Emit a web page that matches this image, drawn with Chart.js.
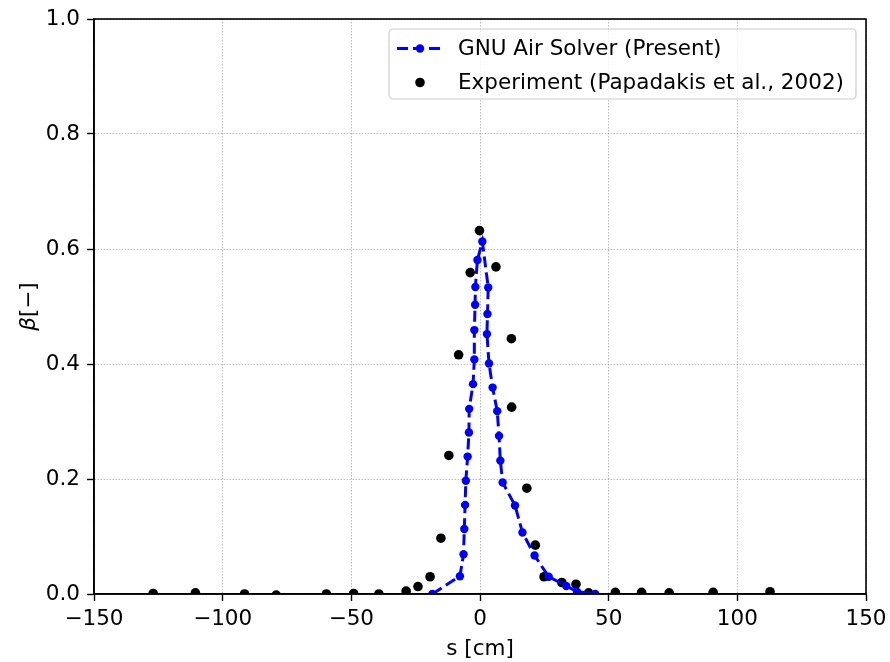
<!DOCTYPE html>
<html>
<head>
<meta charset="utf-8">
<title>Void fraction profile</title>
<script src="https://cdn.jsdelivr.net/npm/chart.js@4.4.1/dist/chart.umd.min.js"></script>
<style>
  html, body { margin: 0; padding: 0; background: #fff; }
  #wrap { width: 890px; height: 662px; }
</style>
</head>
<body>
<div id="wrap"><canvas id="betaChart" width="890" height="662"></canvas></div>
<script>
// GNU Air Solver (present) - s [cm] and beta
const simS = [-18.5, -7.8, -6.4, -6.1, -5.8, -5.5, -4.8, -4.3, -4.2, -2.7, -2.2, -2.2, -1.9, -1.8, -1.0, 0.9,
              3.2, 2.9, 2.7, 3.5, 4.9, 6.7, 7.4, 7.9, 8.8, 13.6, 16.5, 21.2, 26.7, 33.5, 37.7, 44.8];
const simBeta = [0.0, 0.031, 0.069, 0.113, 0.155, 0.197, 0.239, 0.281, 0.322, 0.365, 0.408, 0.459, 0.503, 0.534, 0.581, 0.613,
                 0.533, 0.487, 0.452, 0.401, 0.359, 0.318, 0.275, 0.232, 0.194, 0.154, 0.107, 0.067, 0.030, 0.014, 0.004, 0.0];

// Experiment (Papadakis et al., 2002)
const expS = [-127.0, -110.6, -91.5, -79.2, -59.7, -49.1, -39.3, -28.7, -24.1, -19.4, -15.2, -12.1, -8.3, -3.8, -0.2,
              6.2, 12.2, 12.3, 18.2, 21.5, 24.9, 31.8, 37.3, 42.2, 52.6, 62.8, 73.5, 90.6, 112.7];
const expBeta = [0.001, 0.002, 0.0, -0.002, 0.0, 0.001, 0.0, 0.005, 0.013, 0.030, 0.097, 0.241, 0.416, 0.559, 0.632,
                 0.569, 0.444, 0.325, 0.184, 0.085, 0.030, 0.020, 0.017, 0.002, 0.003, 0.003, 0.002, 0.003, 0.004];

const seriesLabels = ['GNU Air Solver (Present)', 'Experiment (Papadakis et al., 2002)'];
const xTicks = [-150, -100, -50, 0, 50, 100, 150];
const yTicks = [0.0, 0.2, 0.4, 0.6, 0.8, 1.0];
const xTitle = 's [cm]';

const FONT = 'DejaVu Sans';
const FSIZE = 21.5;
const BLUE = '#0000ff';
const GRID = 'rgba(120,120,120,0.55)';

function toPoints(xs, ys) {
    return xs.map((x, i) => ({ x: x, y: ys[i] }));
}

function minus(v) {
    return v < 0 ? '\u2212' + Math.abs(v) : String(v);
}

// full box around the axes, like matplotlib spines
const frame = {
    id: 'frame',
    afterDraw(chart) {
        const a = chart.chartArea, ctx = chart.ctx;
        ctx.save();
        ctx.strokeStyle = '#000';
        ctx.lineWidth = 1.6;
        ctx.strokeRect(a.left, a.top, a.right - a.left, a.bottom - a.top);
        ctx.restore();
    }
};

// y title with italic beta
const yTitle = {
    id: 'yTitle',
    afterDraw(chart) {
        const a = chart.chartArea, ctx = chart.ctx;
        const cy = (a.top + a.bottom) / 2;
        const up = FSIZE + 'px "' + FONT + '"';
        const it = 'oblique ' + up;
        ctx.save();
        ctx.translate(29, cy);
        ctx.rotate(-Math.PI / 2);
        ctx.fillStyle = '#000';
        ctx.textBaseline = 'middle';
        ctx.textAlign = 'left';
        ctx.font = it;
        const w1 = ctx.measureText('\u03b2').width;
        ctx.font = up;
        const w2 = ctx.measureText('[\u2212]').width;
        const x = -(w1 + w2) / 2;
        ctx.font = it;
        ctx.fillText('\u03b2', x, 0);
        ctx.font = up;
        ctx.fillText('[\u2212]', x + w1, 0);
        ctx.restore();
    }
};

// matplotlib style legend box in the upper right
const boxLegend = {
    id: 'boxLegend',
    afterDraw(chart) {
        const ctx = chart.ctx;
        const a = chart.chartArea;
        const x0 = 389, y0 = 29, w = a.right - 10 - x0, h = 70;
        ctx.save();
        ctx.beginPath();
        ctx.roundRect(x0, y0, w, h, 4);
        ctx.fillStyle = 'rgba(255,255,255,0.85)';
        ctx.fill();
        ctx.strokeStyle = '#cccccc';
        ctx.lineWidth = 1.2;
        ctx.stroke();

        const rows = [48.5, 82.5];
        chart.data.datasets.forEach((ds, i) => {
            const y = rows[i];
            if (ds.showLine) {
                ctx.beginPath();
                ctx.setLineDash(ds.borderDash);
                ctx.strokeStyle = ds.borderColor;
                ctx.lineWidth = ds.borderWidth;
                ctx.moveTo(397, y);
                ctx.lineTo(441, y);
                ctx.stroke();
                ctx.setLineDash([]);
            }
            ctx.beginPath();
            ctx.arc(420, y, ds.pointRadius, 0, Math.PI * 2);
            ctx.fillStyle = ds.pointBackgroundColor;
            ctx.fill();

            ctx.fillStyle = '#000';
            ctx.font = FSIZE + 'px "' + FONT + '"';
            ctx.textBaseline = 'middle';
            ctx.textAlign = 'left';
            ctx.fillText(ds.label, 458, y + 1);
        });
        ctx.restore();
    }
};

const ctx = document.getElementById('betaChart').getContext('2d');
const myChart = new Chart(ctx, {
    type: 'scatter',
    data: {
        datasets: [
            {
                label: seriesLabels[0],
                data: toPoints(simS, simBeta),
                showLine: true,
                borderColor: BLUE,
                borderWidth: 3,
                borderDash: [11, 5],
                pointRadius: 4.2,
                pointBackgroundColor: BLUE,
                pointBorderWidth: 0,
                pointHoverRadius: 4.2,
                tension: 0,
                clip: 0
            },
            {
                label: seriesLabels[1],
                data: toPoints(expS, expBeta),
                showLine: false,
                pointRadius: 4.8,
                pointBackgroundColor: '#000',
                pointBorderWidth: 0,
                backgroundColor: '#000',
                clip: 0
            }
        ]
    },
    options: {
        responsive: false,
        animation: false,
        events: [],
        layout: { padding: { top: 19, right: 24, left: 0, bottom: 0 } },
        plugins: {
            legend: { display: false },
            tooltip: { enabled: false }
        },
        scales: {
            x: {
                type: 'linear',
                min: -150,
                max: 150,
                afterBuildTicks: s => { s.ticks = xTicks.map(v => ({ value: v })); },
                afterFit: s => {
                    s.height = 68;
                    // keep the plot box fixed, the end labels may overhang
                    s.paddingLeft = 0;
                    s.paddingRight = 0;
                },
                ticks: {
                    color: '#000',
                    padding: 6,
                    maxRotation: 0,
                    font: { family: FONT, size: FSIZE },
                    callback: v => minus(v)
                },
                grid: {
                    color: GRID,
                    lineWidth: 0.9,
                    tickColor: '#000',
                    tickLength: 7,
                    tickWidth: 1.4
                },
                border: { display: true, color: '#000', width: 1.6, dash: [1.5, 1.5] },
                title: {
                    display: true,
                    text: xTitle,
                    color: '#000',
                    font: { family: FONT, size: FSIZE },
                    padding: { top: 0, bottom: 0 }
                }
            },
            y: {
                type: 'linear',
                min: 0,
                max: 1,
                afterBuildTicks: s => { s.ticks = yTicks.map(v => ({ value: v })); },
                afterFit: s => {
                    s.width = 94;
                    s.paddingTop = 0;
                    s.paddingBottom = 0;
                },
                ticks: {
                    color: '#000',
                    padding: 7,
                    font: { family: FONT, size: FSIZE },
                    callback: v => v.toFixed(1)
                },
                grid: {
                    color: GRID,
                    lineWidth: 0.9,
                    tickColor: '#000',
                    tickLength: 7,
                    tickWidth: 1.4
                },
                border: { display: true, color: '#000', width: 1.6, dash: [1.5, 1.5] }
            }
        }
    },
    plugins: [frame, yTitle, boxLegend]
});
</script>
</body>
</html>
